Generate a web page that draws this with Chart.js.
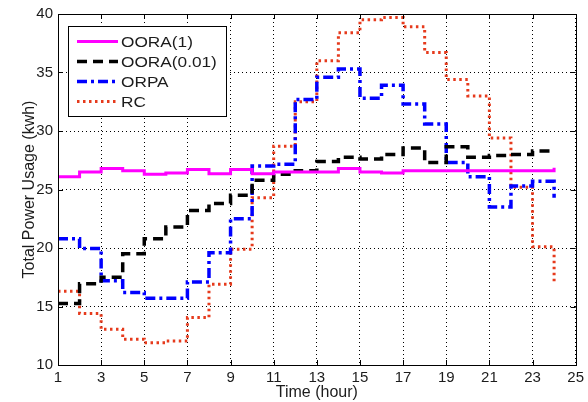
<!DOCTYPE html>
<html>
<head>
<meta charset="utf-8">
<script src="https://cdn.jsdelivr.net/npm/chart.js@4"></script>
<style>
  html, body { margin: 0; padding: 0; background: #fff; }
  #wrap { width: 588px; height: 402px; }
</style>
</head>
<body>
<div id="wrap"><canvas id="powerChart" width="588" height="402"></canvas></div>
<script>
// Hours of the day (stairs start at each hour)
const hours = [1, 2, 3, 4, 5, 6, 7, 8, 9, 10, 11, 12, 13, 14, 15, 16, 17, 18, 19, 20, 21, 22, 23, 24];

// Total power usage (kwh)
const oora1 = [26.1, 26.5, 26.8, 26.6, 26.3, 26.4, 26.7, 26.35, 26.7, 26.35, 26.5, 26.5,
               26.5, 26.8, 26.5, 26.4, 26.6, 26.6, 26.6, 26.6, 26.6, 26.6, 26.6, 26.85];
const oora001 = [15.25, 16.95, 17.5, 19.5, 20.8, 21.8, 23.2, 23.8, 24.5, 25.8, 26.3, 26.6,
                 27.4, 27.75, 27.6, 28.0, 28.55, 27.3, 28.65, 27.75, 27.9, 28.0, 28.3, 28.3];
const orpa = [20.8, 19.95, 17.2, 16.2, 15.7, 15.7, 17.1, 19.6, 22.5, 27.0, 27.15, 32.7,
              34.6, 35.3, 32.8, 33.9, 32.3, 30.6, 27.3, 26.1, 23.5, 25.3, 25.7, 24.3];
const rc = [16.3, 14.4, 13.05, 12.2, 11.9, 12.05, 14.05, 16.9, 19.9, 24.3, 28.7, 32.5,
            36.0, 38.4, 39.5, 39.7, 38.9, 36.7, 34.4, 33.0, 29.4, 25.2, 20.1, 17.0];

const seriesNames = ['OORA(1)', 'OORA(0.01)', 'ORPA', 'RC'];

// Axis ticks
const xTicks = [1, 3, 5, 7, 9, 11, 13, 15, 17, 19, 21, 23, 25];
const yTicks = [10, 15, 20, 25, 30, 35, 40];

const textColor = '#1c1c1c';

function toPoints(values) {
    return hours.map((h, i) => ({ x: h, y: values[i] }));
}

// Frame, inner tick marks and legend box like the original figure
const framePlugin = {
    id: 'frame',
    afterDatasetsDraw(chart) {
        const ctx = chart.ctx;
        const area = chart.chartArea;
        const xs = chart.scales.x;
        const ys = chart.scales.y;

        ctx.save();
        ctx.strokeStyle = '#000';
        ctx.lineWidth = 1;
        ctx.setLineDash([]);

        // inner tick marks on all four sides
        ctx.beginPath();
        xTicks.forEach(t => {
            const px = Math.round(xs.getPixelForValue(t)) + 0.5;
            ctx.moveTo(px, area.bottom);
            ctx.lineTo(px, area.bottom - 5);
            ctx.moveTo(px, area.top);
            ctx.lineTo(px, area.top + 5);
        });
        yTicks.forEach(t => {
            const py = Math.round(ys.getPixelForValue(t)) + 0.5;
            ctx.moveTo(area.left, py);
            ctx.lineTo(area.left + 5, py);
            ctx.moveTo(area.right, py);
            ctx.lineTo(area.right - 5, py);
        });
        ctx.stroke();

        ctx.strokeRect(Math.round(area.left) + 0.5, Math.round(area.top) + 0.5,
                       Math.round(area.right - area.left), Math.round(area.bottom - area.top));

        // legend
        const lx = 68.5, ly = 26.5, lw = 158, lh = 90;
        ctx.fillStyle = '#fff';
        ctx.fillRect(lx, ly, lw, lh);
        ctx.strokeRect(lx, ly, lw, lh);

        chart.data.datasets.forEach((ds, i) => {
            const rowY = 41.5 + i * 20;
            ctx.save();
            ctx.strokeStyle = ds.borderColor;
            ctx.lineWidth = ds.borderWidth;
            ctx.setLineDash(ds.borderDash || []);
            ctx.beginPath();
            ctx.moveTo(77, rowY);
            ctx.lineTo(118, rowY);
            ctx.stroke();
            ctx.restore();

            ctx.save();
            ctx.fillStyle = textColor;
            ctx.font = '15px "Liberation Sans", Arial, sans-serif';
            ctx.textBaseline = 'middle';
            ctx.textAlign = 'left';
            ctx.translate(121, rowY + 1);
            ctx.scale(1.15, 1);
            ctx.fillText(ds.label, 0, 0);
            ctx.restore();
        });
        ctx.restore();
    }
};

const ctx = document.getElementById('powerChart').getContext('2d');
new Chart(ctx, {
    type: 'line',
    data: {
        datasets: [
            {
                label: seriesNames[0],
                data: toPoints(oora1),
                borderColor: '#ff00ff',
                borderWidth: 3,
                stepped: true
            },
            {
                label: seriesNames[1],
                data: toPoints(oora001),
                borderColor: '#000000',
                borderWidth: 3.5,
                borderDash: [10, 6],
                stepped: true
            },
            {
                label: seriesNames[2],
                data: toPoints(orpa),
                borderColor: '#0000ff',
                borderWidth: 3.5,
                borderDash: [10, 4, 3, 4],
                stepped: true
            },
            {
                label: seriesNames[3],
                data: toPoints(rc),
                borderColor: '#e63a1c',
                borderWidth: 3,
                borderDash: [2.5, 3.5],
                stepped: true
            }
        ]
    },
    options: {
        responsive: false,
        animation: false,
        layout: { padding: { top: 13, right: 10, left: 0, bottom: 0 } },
        elements: { point: { radius: 0 }, line: { tension: 0, fill: false } },
        plugins: {
            legend: { display: false },
            tooltip: { enabled: false }
        },
        scales: {
            x: {
                type: 'linear',
                min: 1,
                max: 25,
                afterFit(scale) { scale.height = 37; },
                afterBuildTicks(scale) { scale.ticks = xTicks.map(v => ({ value: v })); },
                ticks: {
                    color: textColor,
                    font: { size: 15, family: '"Liberation Sans", Arial, sans-serif' },
                    padding: 4,
                    maxRotation: 0,
                    autoSkip: false
                },
                grid: { color: '#000', lineWidth: 1, drawTicks: false },
                border: { display: false, dash: [1, 3] },
                title: {
                    display: true,
                    text: 'Time (hour)',
                    color: textColor,
                    font: { size: 16, family: '"Liberation Sans", Arial, sans-serif' },
                    padding: { top: 0, bottom: 0 }
                }
            },
            y: {
                min: 10,
                max: 40,
                afterFit(scale) { scale.width = 58; },
                afterBuildTicks(scale) { scale.ticks = yTicks.map(v => ({ value: v })); },
                ticks: {
                    color: textColor,
                    font: { size: 15, family: '"Liberation Sans", Arial, sans-serif' },
                    padding: 5
                },
                grid: { color: '#000', lineWidth: 1, drawTicks: false },
                border: { display: false, dash: [1, 3] },
                title: {
                    display: true,
                    text: 'Total Power Usage (kwh)',
                    color: textColor,
                    font: { size: 16, family: '"Liberation Sans", Arial, sans-serif' },
                    padding: { top: 20, bottom: 0 }
                }
            }
        }
    },
    plugins: [framePlugin]
});
</script>
</body>
</html>
